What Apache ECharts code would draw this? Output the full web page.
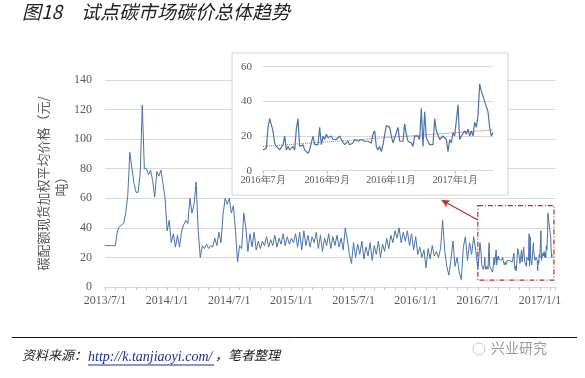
<!DOCTYPE html>
<html>
<head>
<meta charset="utf-8">
<script src="https://cdn.jsdelivr.net/npm/echarts@6/dist/echarts.min.js"></script>
<style>
  html, body { margin: 0; padding: 0; background: #fff; }
  #carbon { width: 585px; height: 378px; }
</style>
</head>
<body>
<div id="carbon"></div>
<script>
// x is counted in months from 2013/7/1
const histStep = 0.2
const recentStart = 36          // 2016/7/1
const recentStep = 5 / 96

const mainTickLabels = ['2013/7/1', '2014/1/1', '2014/7/1', '2015/1/1', '2015/7/1', '2016/1/1', '2016/7/1', '2017/1/1']
const insetTickLabels = ['2016年7月', '2016年9月', '2016年11月', '2017年1月']

// 2013/7 - 2016/7
const history = [
  28, 28, 28, 28, 28, 28, 38, 41, 42, 43, 50, 62, 91, 80, 70, 64, 64, 77, 123, 80,
  80, 76, 79, 72, 61, 78, 75, 79, 70, 60, 38, 45, 30, 36, 27, 35, 27, 38, 42, 45,
  43, 60, 50, 56, 71, 38, 20, 28, 26, 29, 26, 28, 27, 33, 28, 37, 30, 49, 60, 56,
  60, 50, 55, 38, 17, 28, 26, 50, 40, 24, 36, 27, 37, 25, 31, 26, 31, 28, 34, 27,
  32, 28, 35, 27, 33, 29, 36, 28, 34, 29, 33, 30, 36, 27, 37, 25, 38, 28, 35, 27,
  34, 30, 37, 26, 35, 24, 33, 28, 36, 26, 34, 28, 35, 27, 33, 25, 40, 32, 22, 16,
  30, 20, 29, 22, 31, 19, 27, 21, 30, 18, 28, 22, 31, 20, 29, 24, 33, 26, 35, 30,
  38, 33, 40, 30, 37, 31, 38, 28, 36, 25, 34, 22, 27, 20, 25, 13, 26, 19, 28, 21,
  24, 20, 26, 45, 25, 14, 8, 18, 31, 14, 20, 10, 5, 27, 34, 18, 30, 22, 34, 25
]

// 2016/7 - 2017/2
const recent = [
  12, 12, 13, 25, 30, 30, 23, 16, 14, 13, 12, 12, 15, 20, 12, 14, 12, 11, 14, 12,
  24, 30, 14, 13, 15, 12, 11, 10, 12, 16, 20, 15, 16, 15, 25, 15, 20, 18, 21, 19,
  18, 20, 18, 18, 18, 19, 20, 18, 17, 15, 14, 17, 15, 14, 16, 18, 17, 17, 17, 18,
  17, 17, 17, 17, 17, 16, 21, 23, 14, 12, 14, 11, 15, 14, 26, 25, 25, 20, 16, 19,
  22, 25, 17, 18, 17, 27, 21, 17, 17, 16, 14, 20, 19, 20, 18, 36, 14, 34, 19, 20,
  15, 16, 15, 30, 23, 22, 18, 17, 20, 19, 18, 11, 18, 16, 22, 20, 21, 38, 18, 20,
  19, 23, 21, 24, 20, 23, 20, 28, 25, 32, 50, 46, 43, 40, 37, 34, 25, 20, 22
]

// dotted trend line on the inset
const trendValues = [14, 23.5]

const mainData = history.map((v, i) => [i * histStep, v])
  .concat(recent.map((v, i) => [recentStart + i * recentStep, v]))
const insetData = recent.map((v, i) => [i * recentStep, v])
const insetEnd = (recent.length - 1) * recentStep
const trendData = [[0, trendValues[0]], [insetEnd, trendValues[1]]]

const grey = '#595959'
const gridGrey = '#d9d9d9'
const blue = '#4a72aa'
const red = '#c0282d'
const cjk = '"Noto Sans CJK SC", sans-serif'
const serif = '"Liberation Serif", serif'

const chart = echarts.init(document.getElementById('carbon'))
chart.setOption({
  animation: false,
  backgroundColor: '#fff',
  grid: [
    { left: 105, right: 29.5, top: 80, bottom: 91 },
    { left: 263, right: 92, top: 66.7, bottom: 207.3, z: 10 }
  ],
  xAxis: [
    {
      type: 'value',
      gridIndex: 0,
      min: 0,
      max: 43.5,
      interval: 6,
      axisLine: { lineStyle: { color: gridGrey } },
      axisTick: { show: true, length: 3, lineStyle: { color: '#bfbfbf' } },
      minorTick: { show: true, splitNumber: 6, length: 3, lineStyle: { color: '#bfbfbf' } },
      splitLine: { show: false },
      axisLabel: {
        color: grey, fontFamily: serif, fontSize: 12, margin: 8,
        showMaxLabel: false,
        formatter: v => mainTickLabels[Math.round(v / 6)] || ''
      }
    },
    {
      type: 'value',
      gridIndex: 1,
      min: 0,
      max: insetEnd,
      interval: 2,
      z: 10,
      axisLine: { lineStyle: { color: gridGrey } },
      axisTick: { show: true, length: 3, lineStyle: { color: '#bfbfbf' } },
      splitLine: { show: false },
      axisLabel: {
        color: grey, fontFamily: serif, fontSize: 10, margin: 5,
        showMaxLabel: false,
        formatter: v => insetTickLabels[Math.round(v / 2)] || ''
      }
    }
  ],
  yAxis: [
    {
      type: 'value',
      gridIndex: 0,
      min: 0,
      max: 140,
      interval: 20,
      axisLine: { show: false },
      axisTick: { show: false },
      splitLine: { lineStyle: { color: gridGrey } },
      axisLabel: { color: grey, fontFamily: serif, fontSize: 12, margin: 13 },
      name: '碳配额现货加权平均价格（元/\n吨）',
      nameLocation: 'middle',
      nameRotate: 90,
      nameGap: 35,
      nameMoveOverlap: false,
      nameTextStyle: { color: grey, fontFamily: cjk, fontSize: 13, lineHeight: 18 }
    },
    {
      type: 'value',
      gridIndex: 1,
      min: 0,
      max: 60,
      interval: 20,
      z: 10,
      axisLine: { show: false },
      axisTick: { show: false },
      splitLine: { lineStyle: { color: gridGrey } },
      axisLabel: { color: grey, fontFamily: serif, fontSize: 11, margin: 11 }
    }
  ],
  series: [
    {
      name: '碳价',
      type: 'line',
      xAxisIndex: 0,
      yAxisIndex: 0,
      data: mainData,
      showSymbol: false,
      lineStyle: { color: blue, width: 1 },
      markArea: {
        silent: true,
        itemStyle: { color: 'transparent', borderColor: red, borderWidth: 1.2, borderType: [5, 2, 1, 2] },
        data: [[{ coord: [recentStart, 55] }, { coord: [43.35, 4.7] }]]
      },
      markLine: {
        silent: true,
        symbol: ['none', 'arrow'],
        symbolSize: [6, 8],
        label: { show: false },
        lineStyle: { color: red, width: 1.2, type: 'solid' },
        data: [[{ coord: [recentStart, 45.3] }, { coord: [32.5, 58.8] }]]
      }
    },
    {
      name: '近期碳价',
      type: 'line',
      xAxisIndex: 1,
      yAxisIndex: 1,
      z: 12,
      data: insetData,
      showSymbol: false,
      lineStyle: { color: blue, width: 1.2 }
    },
    {
      name: '趋势',
      type: 'line',
      xAxisIndex: 1,
      yAxisIndex: 1,
      z: 11,
      data: trendData,
      showSymbol: false,
      lineStyle: { color: '#d06060', width: 1, type: 'dotted' }
    }
  ],
  graphic: [
    // inset panel
    { type: 'rect', z: 6, shape: { x: 232, y: 53, width: 276, height: 142 },
      style: { fill: '#fff', stroke: '#d4d4d4', lineWidth: 1 } },
    // title
    { type: 'text', left: 22, top: 2,
      style: { text: '图18　试点碳市场碳价总体趋势', fill: '#222', font: 'italic 19px ' + cjk } },
    // footer rule
    { type: 'line', shape: { x1: 12, y1: 337.5, x2: 577, y2: 337.5 },
      style: { stroke: '#111', lineWidth: 1 } },
    { type: 'text', left: 22, top: 349,
      style: { text: '资料来源：', fill: '#222', font: 'italic 13px ' + cjk } },
    { type: 'text', left: 88, top: 350,
      style: { text: 'http://k.tanjiaoyi.com/', fill: '#1f2f8f', font: 'italic 14px ' + serif } },
    { type: 'line', shape: { x1: 88, y1: 365, x2: 214, y2: 365 },
      style: { stroke: '#1f2f8f', lineWidth: 1 } },
    { type: 'text', left: 215, top: 349,
      style: { text: '，笔者整理', fill: '#222', font: 'italic 13px ' + cjk } },
    // watermark
    { type: 'circle', shape: { cx: 479, cy: 349, r: 6 },
      style: { fill: 'none', stroke: '#c8c8c8', lineWidth: 1 } },
    { type: 'text', left: 491, top: 341,
      style: { text: '兴业研究', fill: '#9a9a9a', font: '14px ' + cjk } }
  ]
})
</script>
</body>
</html>
